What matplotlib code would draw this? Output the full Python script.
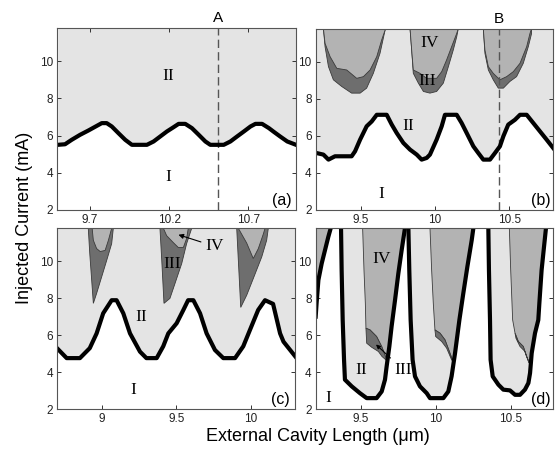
import matplotlib.pyplot as plt
from matplotlib.patches import Polygon

# ---- panel (a): I/II boundary
a_x = [9.497, 9.542, 9.584, 9.637, 9.689, 9.742, 9.774, 9.805, 9.837, 9.879, 9.922, 9.964,
       10.059, 10.101, 10.143, 10.185, 10.227, 10.259, 10.301, 10.343, 10.386, 10.428, 10.459,
       10.544, 10.586, 10.628, 10.671, 10.713, 10.744, 10.786, 10.829, 10.86, 10.9, 10.945, 11.0]
a_y = [5.5, 5.53, 5.77, 6.04, 6.27, 6.52, 6.67, 6.67, 6.49, 6.13, 5.77, 5.5,
       5.5, 5.68, 5.95, 6.22, 6.45, 6.63, 6.63, 6.4, 6.04, 5.68, 5.5,
       5.5, 5.68, 5.95, 6.22, 6.49, 6.63, 6.63, 6.4, 6.2, 5.95, 5.68, 5.5]

# ---- panel (b): I/II boundary
b_x = [9.2, 9.249, 9.283, 9.327, 9.439, 9.462, 9.496, 9.54, 9.574, 9.608, 9.675, 9.709, 9.742,
       9.787, 9.832, 9.877, 9.91, 9.944, 9.966, 10.011, 10.045, 10.067, 10.146, 10.179, 10.213,
       10.258, 10.291, 10.325, 10.37, 10.404, 10.437, 10.46, 10.493, 10.538, 10.572, 10.617,
       10.661, 10.706, 10.751, 10.8]
b_y = [5.08, 4.99, 4.72, 4.9, 4.9, 5.17, 5.8, 6.52, 6.78, 7.14, 7.14, 6.61, 6.16,
       5.62, 5.26, 4.99, 4.72, 4.81, 4.99, 5.8, 6.52, 7.14, 7.14, 6.7, 6.16,
       5.44, 5.08, 4.72, 4.72, 5.08, 5.44, 5.98, 6.61, 6.87, 7.14, 7.14,
       6.7, 6.25, 5.8, 5.3]

# region III (outer) and IV outlines hanging from the top, panel (b)
b_III = [
    ([9.249, 9.26, 9.283, 9.316, 9.372, 9.439, 9.496, 9.54, 9.585, 9.63, 9.664, 9.664],
     [11.8, 10.82, 9.74, 9.03, 8.67, 8.31, 8.31, 8.58, 9.38, 10.46, 11.71, 11.8]),
    ([9.832, 9.843, 9.854, 9.888, 9.922, 9.966, 10.011, 10.056, 10.09, 10.123, 10.146, 10.157],
     [11.8, 10.64, 9.38, 8.85, 8.4, 8.31, 8.4, 8.85, 9.74, 10.64, 11.35, 11.8]),
    ([10.325, 10.336, 10.359, 10.392, 10.426, 10.46, 10.504, 10.549, 10.594, 10.628, 10.65, 10.65],
     [11.8, 10.46, 9.56, 9.03, 8.58, 8.58, 8.94, 9.2, 9.92, 10.82, 11.53, 11.8]),
]
b_IV = [
    ([9.249, 9.26, 9.294, 9.339, 9.406, 9.473, 9.518, 9.563, 9.608, 9.641, 9.664, 9.664],
     [11.8, 11.0, 10.28, 9.65, 9.56, 9.11, 9.2, 9.56, 10.28, 11.18, 11.71, 11.8]),
    ([9.832, 9.843, 9.854, 9.899, 9.944, 10.011, 10.045, 10.078, 10.112, 10.146, 10.157],
     [11.8, 10.64, 9.56, 9.38, 9.11, 9.11, 9.47, 10.1, 10.82, 11.53, 11.8]),
    ([10.325, 10.336, 10.359, 10.392, 10.437, 10.482, 10.527, 10.572, 10.617, 10.639, 10.65],
     [11.8, 10.64, 9.74, 9.38, 9.03, 9.2, 9.47, 9.92, 10.82, 11.53, 11.8]),
]

# ---- panel (c): I/II boundary
c_x = [8.7, 8.765, 8.854, 8.92, 8.966, 9.01, 9.067, 9.1, 9.145, 9.19, 9.257, 9.3, 9.369,
       9.413, 9.447, 9.503, 9.548, 9.58, 9.615, 9.66, 9.704, 9.76, 9.816, 9.895, 9.95, 9.995,
       10.05, 10.096, 10.15, 10.197, 10.22, 10.3]
c_y = [5.3, 4.76, 4.76, 5.3, 6.1, 7.19, 7.9, 7.9, 7.19, 6.1, 5.11, 4.76, 4.76,
       5.4, 6.1, 6.65, 7.37, 7.9, 7.9, 7.19, 6.1, 5.2, 4.76, 4.76, 5.4, 6.29,
       7.37, 7.9, 7.7, 6.1, 5.65, 4.84]

c_III = [
    ([8.91, 8.92, 8.944, 8.966, 9.0, 9.034, 9.067, 9.078],
     [11.8, 10.43, 7.73, 8.27, 9.17, 10.07, 10.97, 11.8]),
    ([9.391, 9.403, 9.418, 9.458, 9.492, 9.537, 9.57, 9.604],
     [11.8, 10.07, 7.73, 8.0, 8.81, 9.89, 10.97, 11.8]),
    ([9.906, 9.933, 9.973, 10.017, 10.074, 10.107, 10.118],
     [11.8, 7.51, 8.17, 9.07, 10.25, 11.15, 11.8]),
]
c_IV = [
    ([8.936, 8.944, 8.966, 8.99, 9.023, 9.045, 9.067],
     [11.8, 11.15, 10.7, 10.54, 10.6, 11.15, 11.8]),
    ([9.414, 9.436, 9.48, 9.514, 9.548, 9.57, 9.581],
     [11.8, 11.4, 11.03, 10.76, 10.76, 11.25, 11.8]),
    ([9.917, 9.973, 10.017, 10.051, 10.085, 10.096],
     [11.8, 11.0, 10.16, 10.7, 11.5, 11.8]),
]

# ---- panel (d): U-shaped I/II boundaries
d_left_x = [9.198, 9.204, 9.216, 9.238, 9.26, 9.282, 9.298]
d_left_y = [7.01, 7.73, 8.99, 9.89, 10.61, 11.33, 11.8]

d_U = [
    ([9.367, 9.371, 9.378, 9.387, 9.393, 9.438, 9.493, 9.538, 9.604, 9.638, 9.66, 9.671,
      9.689, 9.704, 9.727, 9.749, 9.771, 9.793],
     [11.8, 9.53, 6.83, 4.67, 3.59, 3.23, 2.86, 2.59, 2.59, 2.95, 3.59, 4.31,
      5.39, 6.47, 7.91, 9.35, 10.61, 11.8]),
    ([9.816, 9.822, 9.831, 9.844, 9.86, 9.893, 9.938, 9.96, 10.049, 10.082, 10.104, 10.127,
      10.156, 10.182, 10.209, 10.238, 10.249],
     [11.8, 9.53, 6.83, 4.67, 3.77, 3.23, 2.86, 2.59, 2.59, 2.95, 3.77, 5.03,
      6.83, 8.27, 9.71, 11.15, 11.8]),
    ([10.349, 10.353, 10.36, 10.364, 10.378, 10.416, 10.449, 10.493, 10.527, 10.56, 10.593,
      10.616, 10.627, 10.638, 10.66, 10.671, 10.682, 10.689, 10.704, 10.72, 10.733],
     [11.8, 9.53, 6.83, 4.67, 3.77, 3.32, 3.05, 3.01, 2.77, 2.77, 3.05,
      3.41, 3.95, 5.03, 6.11, 6.47, 6.83, 7.73, 9.53, 10.79, 11.8]),
]
d_IV = [
    ([9.511, 9.52, 9.529, 9.533, 9.56, 9.604, 9.638, 9.675, 9.689, 9.704, 9.727, 9.749,
      9.771, 9.793],
     [11.8, 9.53, 7.73, 6.38, 6.29, 5.93, 5.39, 4.6, 5.39, 6.47, 7.91, 9.35, 10.61, 11.8]),
    ([9.96, 9.971, 9.982, 9.993, 10.027, 10.06, 10.093, 10.115, 10.127, 10.156, 10.182,
      10.209, 10.238, 10.249],
     [11.8, 9.53, 7.73, 6.29, 6.11, 5.75, 5.03, 4.55, 5.03, 6.83, 8.27, 9.71, 11.15, 11.8]),
    ([10.489, 10.498, 10.511, 10.527, 10.549, 10.582, 10.604, 10.625, 10.638, 10.66, 10.671,
      10.682, 10.689, 10.704, 10.72, 10.733],
     [11.8, 9.53, 6.83, 6.11, 5.66, 5.39, 4.85, 4.45, 5.03, 6.11, 6.47, 6.83, 7.73, 9.53,
      10.79, 11.8]),
]
d_III = [
    ([9.533, 9.56, 9.604, 9.638, 9.675, 9.64, 9.616, 9.571, 9.538],
     [6.38, 6.29, 5.93, 5.39, 4.6, 4.85, 5.12, 5.35, 5.57]),
    ([9.993, 10.027, 10.06, 10.093, 10.115, 10.104, 10.071, 10.038, 9.998],
     [6.29, 6.11, 5.75, 5.03, 4.55, 4.67, 5.3, 5.66, 5.93]),
    ([10.527, 10.549, 10.582, 10.604, 10.625, 10.616, 10.593, 10.56, 10.533],
     [6.11, 5.66, 5.39, 4.85, 4.45, 4.58, 5.12, 5.39, 5.84]),
]

xlims = [(9.493, 11.0), (9.197, 10.796), (8.702, 10.297), (9.198, 10.78)]
xticks = [[9.7, 10.2, 10.7], [9.5, 10, 10.5], [9, 9.5, 10], [9.5, 10, 10.5]]
xticklabels = [['9.7', '10.2', '10.7'], ['9.5', '10', '10.5'], ['9', '9.5', '10'],
               ['9.5', '10', '10.5']]
yticks = [2, 4, 6, 8, 10]
panel_tags = ['(a)', '(b)', '(c)', '(d)']

C_II = '#e4e4e4'
C_IV = '#b3b3b3'
C_III = '#6e6e6e'
EDGE = '#3a3a3a'
SERIF = ['Liberation Serif', 'DejaVu Serif']
RSIZE = 12.5

plt.rcParams['font.family'] = ['Liberation Sans', 'DejaVu Sans']

fig = plt.figure(figsize=(5.55, 4.51), dpi=100)
rects = [[0.1032, 0.535, 0.4301, 0.4029],
         [0.5688, 0.5344, 0.4281, 0.4024],
         [0.1032, 0.0931, 0.4283, 0.4007],
         [0.5688, 0.0931, 0.4276, 0.4007]]
axes = [fig.add_axes(r) for r in rects]


def poly(ax, xs, ys, color, lw=0.6):
    ax.add_patch(Polygon(list(zip(xs, ys)), closed=True, facecolor=color,
                         edgecolor=EDGE, linewidth=lw, zorder=2))


def roman(ax, x, y, s):
    ax.text(x, y, s, family=SERIF, fontsize=RSIZE, ha='center', va='center', zorder=5)


# (a)
ax = axes[0]
ax.fill_between(a_x, a_y, 12, color=C_II, lw=0, zorder=1)
ax.plot(a_x, a_y, color='k', lw=3, zorder=4)
ax.axvline(10.51, color='#555555', lw=1, ls=(0, (6, 3)), zorder=3)
roman(ax, 10.196, 9.23, 'II')
roman(ax, 10.196, 3.78, 'I')
ax.annotate('A', xy=(10.51, 1), xycoords=('data', 'axes fraction'), xytext=(0, 2),
            textcoords='offset points', ha='center', va='bottom', fontsize=11)

# (b)
ax = axes[1]
ax.fill_between(b_x, b_y, 12, color=C_II, lw=0, zorder=1)
for xs, ys in b_III:
    poly(ax, xs, ys, C_III)
for xs, ys in b_IV:
    poly(ax, xs, ys, C_IV)
ax.plot(b_x, b_y, color='k', lw=3, zorder=4)
ax.axvline(10.43, color='#555555', lw=1, ls=(0, (6, 3)), zorder=3)
roman(ax, 9.962, 11.0, 'IV')
roman(ax, 9.944, 8.99, 'III')
roman(ax, 9.821, 6.52, 'II')
roman(ax, 9.641, 2.84, 'I')
ax.annotate('B', xy=(10.43, 1), xycoords=('data', 'axes fraction'), xytext=(0, 2),
            textcoords='offset points', ha='center', va='bottom', fontsize=11)

# (c)
ax = axes[2]
ax.fill_between(c_x, c_y, 12, color=C_II, lw=0, zorder=1)
for xs, ys in c_III:
    poly(ax, xs, ys, C_III)
for xs, ys in c_IV:
    poly(ax, xs, ys, C_IV)
ax.plot(c_x, c_y, color='k', lw=3, zorder=4)
roman(ax, 9.47, 9.89, 'III')
roman(ax, 9.268, 7.0, 'II')
roman(ax, 9.213, 3.05, 'I')
ax.annotate('IV', xy=(9.515, 11.45), xytext=(9.755, 10.83), family=SERIF, fontsize=RSIZE,
            ha='center', va='center', zorder=5,
            arrowprops=dict(arrowstyle='-|>', color='k', lw=0.8, mutation_scale=7,
                            shrinkA=1, shrinkB=0))

# (d)
ax = axes[3]
poly(ax, d_left_x + [d_left_x[0]], d_left_y + [11.8], C_IV, lw=0)
for xs, ys in d_U:
    poly(ax, xs, ys, C_II, lw=0)
for xs, ys in d_IV:
    poly(ax, xs, ys, C_IV)
for xs, ys in d_III:
    poly(ax, xs, ys, C_III)
ax.plot(d_left_x, d_left_y, color='k', lw=3, zorder=4)
for xs, ys in d_U:
    ax.plot(xs, ys, color='k', lw=3, zorder=4)
roman(ax, 9.638, 10.16, 'IV')
roman(ax, 9.504, 4.13, 'II')
roman(ax, 9.282, 2.62, 'I')
ax.annotate('III', xy=(9.6, 5.5), xytext=(9.78, 4.13), family=SERIF, fontsize=RSIZE,
            ha='center', va='center', zorder=5,
            arrowprops=dict(arrowstyle='-|>', color='k', lw=0.8, mutation_scale=6,
                            shrinkA=1, shrinkB=0))

for i, ax in enumerate(axes):
    ax.set_xlim(*xlims[i])
    ax.set_ylim(2, 11.8)
    ax.set_xticks(xticks[i])
    ax.set_xticklabels(xticklabels[i])
    ax.set_yticks(yticks)
    ax.tick_params(direction='in', length=3, width=0.7, top=True, right=True,
                   labelsize=8.5, pad=3, colors='#333333', labelcolor='#222222')
    for sp in ax.spines.values():
        sp.set_color('#555555')
        sp.set_linewidth(0.8)
        sp.set_zorder(6)
    tx = 0.98 if i % 2 == 0 else 0.99
    ax.text(tx, 0.05, panel_tags[i], transform=ax.transAxes, ha='right', va='center',
            fontsize=11.5, zorder=7)

fig.text(0.572, 0.033, 'External Cavity Length (μm)', ha='center', va='center', fontsize=13)
fig.text(0.045, 0.517, 'Injected Current (mA)', ha='center', va='center', rotation=90,
         fontsize=13)

fig.savefig('out.png', dpi=100)
